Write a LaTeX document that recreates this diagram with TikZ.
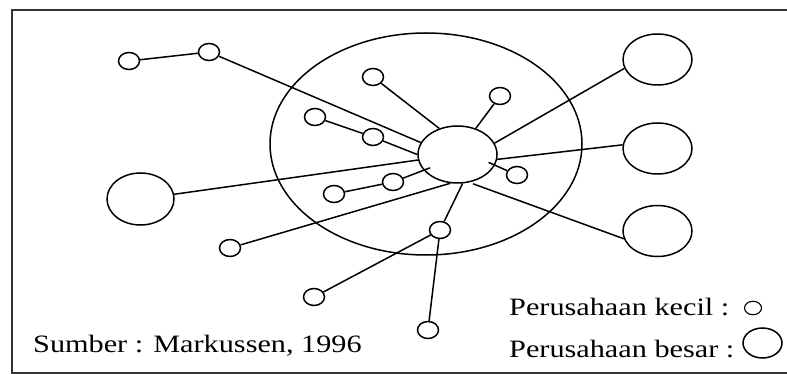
\documentclass[tikz,border=0pt]{standalone}
\usepackage{fontspec}
\setmainfont{Liberation Serif}
\usetikzlibrary{shapes.geometric}
\tikzset{
  firm/.style={ellipse, draw, line width=1.5pt, inner sep=0pt},
  small/.style={firm, minimum width=21pt, minimum height=17pt},
  large/.style={firm, minimum width=69pt, minimum height=51pt},
  link/.style={line width=1.5pt},
  caption/.style={anchor=base west, inner sep=0pt, font=\fontsize{25}{30}\selectfont}
}
\newcommand{\wide}[1]{\scalebox{1.21}[1]{#1}}
\begin{document}
\begin{tikzpicture}[x=1pt, y=-1pt]
\useasboundingbox (0,0) rectangle (787,374);
% outer frame
\draw[line width=2.2pt, black!80] (12,10) rectangle (795,373);

% cluster boundary and core firm
\node[firm, minimum width=312pt, minimum height=222pt] (ring) at (426,144) {};
\node[firm, minimum width=79pt, minimum height=57pt] (hub) at (457.5,154.5) {};

% large firms
\node[large] (bigA) at (657.5,59.5) {};
\node[large] (bigB) at (657.5,148.5) {};
\node[large] (bigC) at (657.5,231) {};
\node[large, minimum width=67pt, minimum height=52pt] (bigL) at (140.5,199) {};

% small firms
\node[small] (A) at (129,61) {};
\node[small] (B) at (209,52) {};
\node[small] (C) at (373,77) {};
\node[small] (D) at (315,117) {};
\node[small] (E) at (373,137) {};
\node[small] (F) at (500,96) {};
\node[small] (G) at (517,175) {};
\node[small] (H) at (393,182) {};
\node[small] (I) at (334,194) {};
\node[small] (J) at (440,230) {};
\node[small] (K) at (230,248) {};
\node[small] (L) at (314,297) {};
\node[small] (M) at (428,330) {};

% links
\draw[link] (A) -- (B);
\draw[link] (B) -- (hub.162);
\draw[link] (C) -- (hub.125);
\draw[link] (D) -- (E);
\draw[link] (E) -- (hub.180);
\draw[link] (F) -- (hub.55);
\draw[link, shorten >=-7pt] (G) -- (hub.-16);
\draw[link] (H) -- (I);
\draw[link, shorten >=-7pt] (H) -- (hub.205);
\draw[link] (K) -- (hub.256);
\draw[link] (J) -- (hub.280);
\draw[link] (L) -- (J);
\draw[link] (M) -- (J);
\draw[link] (bigL) -- (hub);
\draw[link] (hub.17) -- (bigA.195);
\draw[link] (hub.-7) -- (bigB.174);
\draw[link, shorten <=4pt] (hub.-67) -- (bigC.193);

% source and legend
\node[caption] (src) at (33,352) {\wide{Sumber : Markussen, 1996}};
\node[caption] (legS) at (509,315) {\wide{Perusahaan kecil :}};
\node[caption] (legB) at (509,357) {\wide{Perusahaan besar :}};
\node[firm, line width=1.1pt, minimum width=17pt, minimum height=13.5pt] (keyS) at (753,308) {};
\node[firm, minimum width=39pt, minimum height=30pt] (keyB) at (762.5,343) {};
\end{tikzpicture}
\end{document}
